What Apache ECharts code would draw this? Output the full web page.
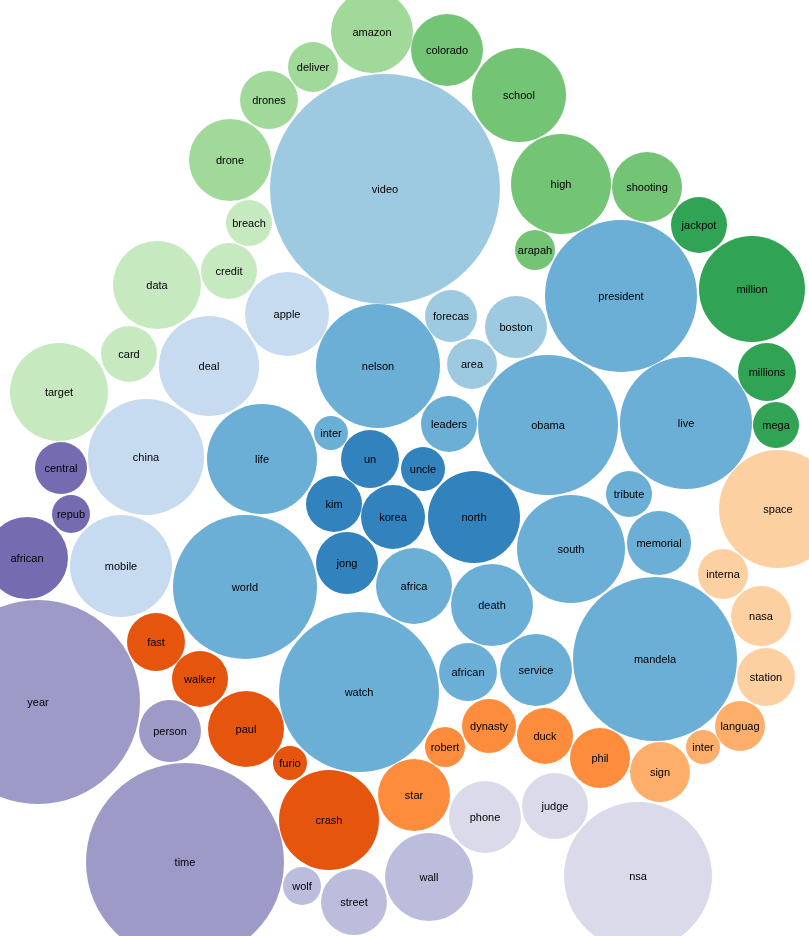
<!DOCTYPE html>
<html>
<head>
<meta charset="utf-8">
<script src="https://cdn.jsdelivr.net/npm/echarts@6/dist/echarts.min.js"></script>
<style>
html,body{margin:0;padding:0;background:#fff;}
#chart{width:809px;height:936px;}
</style>
</head>
<body>
<div id="chart"></div>
<script>
// Words (bubble labels)
var words = ["amazon","colorado","deliver","school","drones","video","drone","high","shooting","breach",
  "jackpot","arapah","data","credit","apple","president","million","forecas","boston","card",
  "deal","nelson","area","millions","target","leaders","obama","live","mega","inter",
  "china","life","un","uncle","central","tribute","space","kim","korea","north",
  "repub","african","mobile","south","memorial","jong","world","africa","interna","death",
  "nasa","fast","mandela","year","walker","watch","african","service","station","person",
  "paul","dynasty","duck","languag","robert","inter","phil","furio","sign","star",
  "judge","phone","crash","time","nsa","wall","wolf","street"];
// Bubble centre x (layout units)
var xs = [372,447,313,519,269,385,230,561,647,249,
  699,535,157,229,287,621,752,451,516,129,
  209,378,472,767,59,449,548,686,776,331,
  146,262,370,423,61,629,778,334,393,474,
  71,27,121,571,659,347,245,414,723,492,
  761,156,655,38,200,359,468,536,766,170,
  246,489,545,740,445,703,600,290,660,414,
  555,485,329,185,638,429,302,354];
// Bubble centre y (layout units)
var ys = [32,50,67,95,100,189,160,184,187,223,
  225,250,285,271,314,296,289,316,327,354,
  366,366,364,372,392,424,425,423,425,433,
  457,459,459,469,468,494,509,504,517,517,
  514,558,566,549,543,563,587,586,574,605,
  616,642,659,702,679,692,672,670,677,731,
  729,726,736,726,747,747,758,763,772,795,
  806,817,820,862,876,877,886,902];
// Bubble radius (layout units)
var radii = [41,36,25,47,29,115,41,50,35,23,
  28,20,44,28,42,76,53,26,31,28,
  50,62,25,29,49,28,70,66,23,17,
  58,55,29,22,26,23,59,28,32,46,
  19,41,51,54,32,31,72,38,25,41,
  30,29,82,102,28,80,29,36,29,31,
  38,27,28,25,20,17,30,17,30,36,
  33,36,50,99,74,44,19,33];
// Cluster id of each bubble (index into the colour scale)
var clusters = [10,9,10,9,10,2,10,9,9,11,
  8,9,11,11,3,1,8,2,2,11,
  3,1,2,8,11,1,1,1,8,1,
  3,1,0,0,12,1,7,0,0,0,
  12,12,3,1,1,0,1,1,7,1,
  7,4,1,13,4,1,1,1,7,13,
  4,5,5,6,5,6,5,4,6,5,
  15,15,4,13,15,14,14,14];

// category20c colour scale
var palette = ["#3182bd","#6baed6","#9ecae1","#c6dbef",
  "#e6550d","#fd8d3c","#fdae6b","#fdd0a2",
  "#31a354","#74c476","#a1d99b","#c7e9c0",
  "#756bb1","#9e9ac8","#bcbddc","#dadaeb"];

var data = words.map(function(w,i){ return [xs[i], ys[i], radii[i], i]; });

var chart = echarts.init(document.getElementById('chart'), null, {renderer:'canvas'});
chart.setOption({
  animation:false,
  grid:{left:0,right:0,top:0,bottom:0},
  xAxis:{type:'value',min:0,max:809,show:false},
  yAxis:{type:'value',min:0,max:936,inverse:true,show:false},
  series:[{
    type:'custom',
    clip:false,
    data:data,
    renderItem:function(params, api){
      var i = api.value(3);
      var c = api.coord([api.value(0), api.value(1)]);
      var r = api.size([api.value(2), 0])[0];
      return {
        type:'group',
        children:[{
          type:'circle',
          shape:{cx:c[0], cy:c[1], r:r},
          style:{fill:palette[clusters[i]]}
        },{
          type:'text',
          x:c[0], y:c[1] + 1,
          style:{text:words[i], fill:'#000', font:'11px "Liberation Sans", Arial, sans-serif',
            align:'center', verticalAlign:'middle'}
        }]
      };
    }
  }]
});
</script>
</body>
</html>
